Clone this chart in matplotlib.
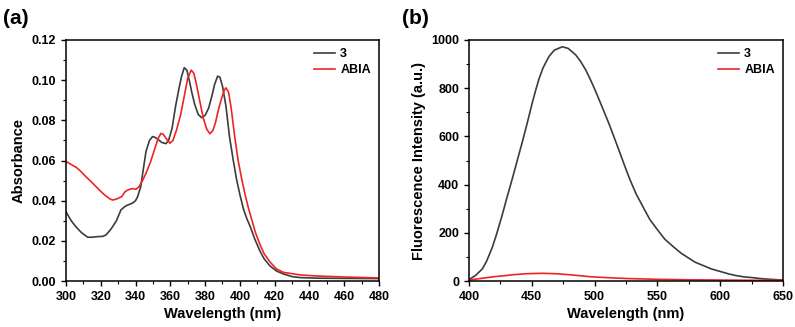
import numpy as np
import matplotlib.pyplot as plt
from matplotlib.ticker import MultipleLocator

plt.rcParams['font.family'] = ['Liberation Sans', 'DejaVu Sans']
plt.rcParams['font.weight'] = 'bold'

# (a) absorbance, compound 3
abs_wl_3 = [300, 303, 305.7, 309, 312.5, 315, 318, 321, 323, 326, 329, 331.6, 334, 336, 338.3,
            340, 341.2, 343, 344, 346, 348, 349.8, 351, 353, 355, 357.5, 359, 361, 363, 365,
            366.5, 368, 369.5, 371, 372.4, 374, 376, 378, 380, 382, 383.8, 385.5, 387.2, 388.5,
            390, 392, 394, 396.2, 398, 400, 402, 404, 406, 408.5, 411.6, 414, 417.3, 421, 425,
            430, 434.6, 445, 463, 480]
abs_3 = [0.0345, 0.030, 0.027, 0.024, 0.0218, 0.0218, 0.0221, 0.0222, 0.0229, 0.026, 0.030,
         0.0354, 0.0372, 0.038, 0.0388, 0.040, 0.042, 0.047, 0.053, 0.0645, 0.070, 0.0719,
         0.0716, 0.0705, 0.069, 0.0684, 0.070, 0.076, 0.087, 0.096, 0.102, 0.1062, 0.105,
         0.0995, 0.0937, 0.088, 0.083, 0.0813, 0.0825, 0.086, 0.0918, 0.098, 0.102, 0.1015,
         0.097, 0.087, 0.072, 0.060, 0.051, 0.043, 0.036, 0.031, 0.027, 0.021, 0.0148, 0.011,
         0.0075, 0.005, 0.0035, 0.0022, 0.0017, 0.0014, 0.0013, 0.0012]

# (a) absorbance, ABIA
abs_wl_abia = [300, 303, 306, 308, 311.5, 315, 319.2, 322, 325, 326.8, 329, 332, 334, 335.5,
               338, 340.3, 342, 344, 346, 348.5, 350.8, 353, 354.6, 356, 358, 359.8, 361.5,
               363.5, 366, 368, 370, 372, 373.5, 375, 377, 379, 381, 382.8, 384.5, 386, 387.6,
               389.5, 391, 392, 393.5, 395, 397, 399, 401, 403, 405, 407, 409, 411.6, 414, 417.3,
               421, 425, 435, 444, 460, 480]
abs_abia = [0.0595, 0.058, 0.0565, 0.055, 0.0519, 0.049, 0.0453, 0.043, 0.041, 0.0403, 0.0408,
            0.042, 0.0445, 0.0453, 0.046, 0.0457, 0.047, 0.050, 0.0536, 0.059, 0.0652, 0.071,
            0.0735, 0.073, 0.0705, 0.0686, 0.070, 0.075, 0.083, 0.092, 0.101, 0.105, 0.1035,
            0.098, 0.0893, 0.081, 0.0755, 0.0733, 0.075, 0.079, 0.0851, 0.091, 0.095, 0.0962,
            0.094, 0.086, 0.072, 0.060, 0.051, 0.043, 0.036, 0.030, 0.024, 0.018, 0.0135,
            0.0095, 0.006, 0.0043, 0.003, 0.0025, 0.002, 0.0015]

# (b) fluorescence, compound 3
fl_wl_3 = [400, 401.3, 405, 410.6, 414, 418.6, 422, 426.5, 430, 434.5, 438, 442.5, 446, 450.4,
           453, 455.7, 459, 463.7, 468, 474.3, 479, 485, 489, 492.9, 497, 500.9, 506, 511.5,
           518, 524.8, 528.2, 533, 538.8, 544, 550.7, 556, 562.7, 569, 575.2, 580, 586.5, 593,
           600.4, 607, 613.1, 619, 625.6, 632, 640, 650]
fl_3 = [8, 10, 22, 50, 82, 140, 195, 275, 342, 425, 492, 578, 648, 740, 790, 838, 885, 932, 958,
        972, 965, 938, 910, 876, 832, 786, 722, 652, 562, 466, 420, 362, 305, 255, 208, 173, 142,
        115, 94, 78, 64, 50, 39, 29, 22, 17, 14, 10, 7, 4]

# (b) fluorescence, ABIA
fl_wl_abia = [400, 410, 420, 426.5, 435, 445, 458.4, 470, 480, 490, 496, 506, 527, 550, 575,
              600, 625, 650]
fl_abia = [4, 11, 18, 21, 26, 30, 32, 30, 26, 21, 18, 15, 10, 7, 5, 4, 3, 3]

c3 = '#3c3c3c'
cabia = '#ee2424'

fig = plt.figure(figsize=(7.95, 3.27), dpi=100)
ax1 = fig.add_axes([66/795, 1-281/327, 313/795, 241/327])
ax2 = fig.add_axes([469/795, 1-281/327, 314/795, 241/327])

ax1.plot(abs_wl_3, abs_3, color=c3, lw=1.2, label='3')
ax1.plot(abs_wl_abia, abs_abia, color=cabia, lw=1.2, label='ABIA')
ax1.set_xlim(300, 480)
ax1.set_ylim(0, 0.12)
ax1.xaxis.set_major_locator(MultipleLocator(20))
ax1.xaxis.set_minor_locator(MultipleLocator(10))
ax1.yaxis.set_major_locator(MultipleLocator(0.02))
ax1.yaxis.set_minor_locator(MultipleLocator(0.01))
ax1.yaxis.set_major_formatter(plt.FormatStrFormatter('%.2f'))
ax1.set_xlabel('Wavelength (nm)', fontsize=10.5, fontweight='bold', labelpad=3)
ax1.set_ylabel('Absorbance', fontsize=10.5, fontweight='bold')

ax2.plot(fl_wl_3, fl_3, color=c3, lw=1.2, label='3')
ax2.plot(fl_wl_abia, fl_abia, color=cabia, lw=1.2, label='ABIA')
ax2.set_xlim(400, 650)
ax2.set_ylim(0, 1000)
ax2.xaxis.set_major_locator(MultipleLocator(50))
ax2.xaxis.set_minor_locator(MultipleLocator(25))
ax2.yaxis.set_major_locator(MultipleLocator(200))
ax2.yaxis.set_minor_locator(MultipleLocator(100))
ax2.set_xlabel('Wavelength (nm)', fontsize=10.5, fontweight='bold', labelpad=3)
ax2.set_ylabel('Fluorescence Intensity (a.u.)', fontsize=10.5, fontweight='bold')

for ax in (ax1, ax2):
    ax.tick_params(which='major', direction='out', length=3.5, width=1, labelsize=9)
    ax.tick_params(which='minor', direction='out', length=2, width=0.8)
    for s in ax.spines.values():
        s.set_linewidth(1.1)
    for lab in ax.get_xticklabels() + ax.get_yticklabels():
        lab.set_fontweight('bold')
    ax.legend(loc='upper right', frameon=False, fontsize=9, handlelength=1.7,
              handletextpad=0.4, borderaxespad=0.25, labelspacing=0.3)

fig.text(3/795, 1-18/327, '(a)', fontsize=15, fontweight='bold', va='center')
fig.text(402/795, 1-18/327, '(b)', fontsize=15, fontweight='bold', va='center')

fig.savefig('out.png', dpi=100)
